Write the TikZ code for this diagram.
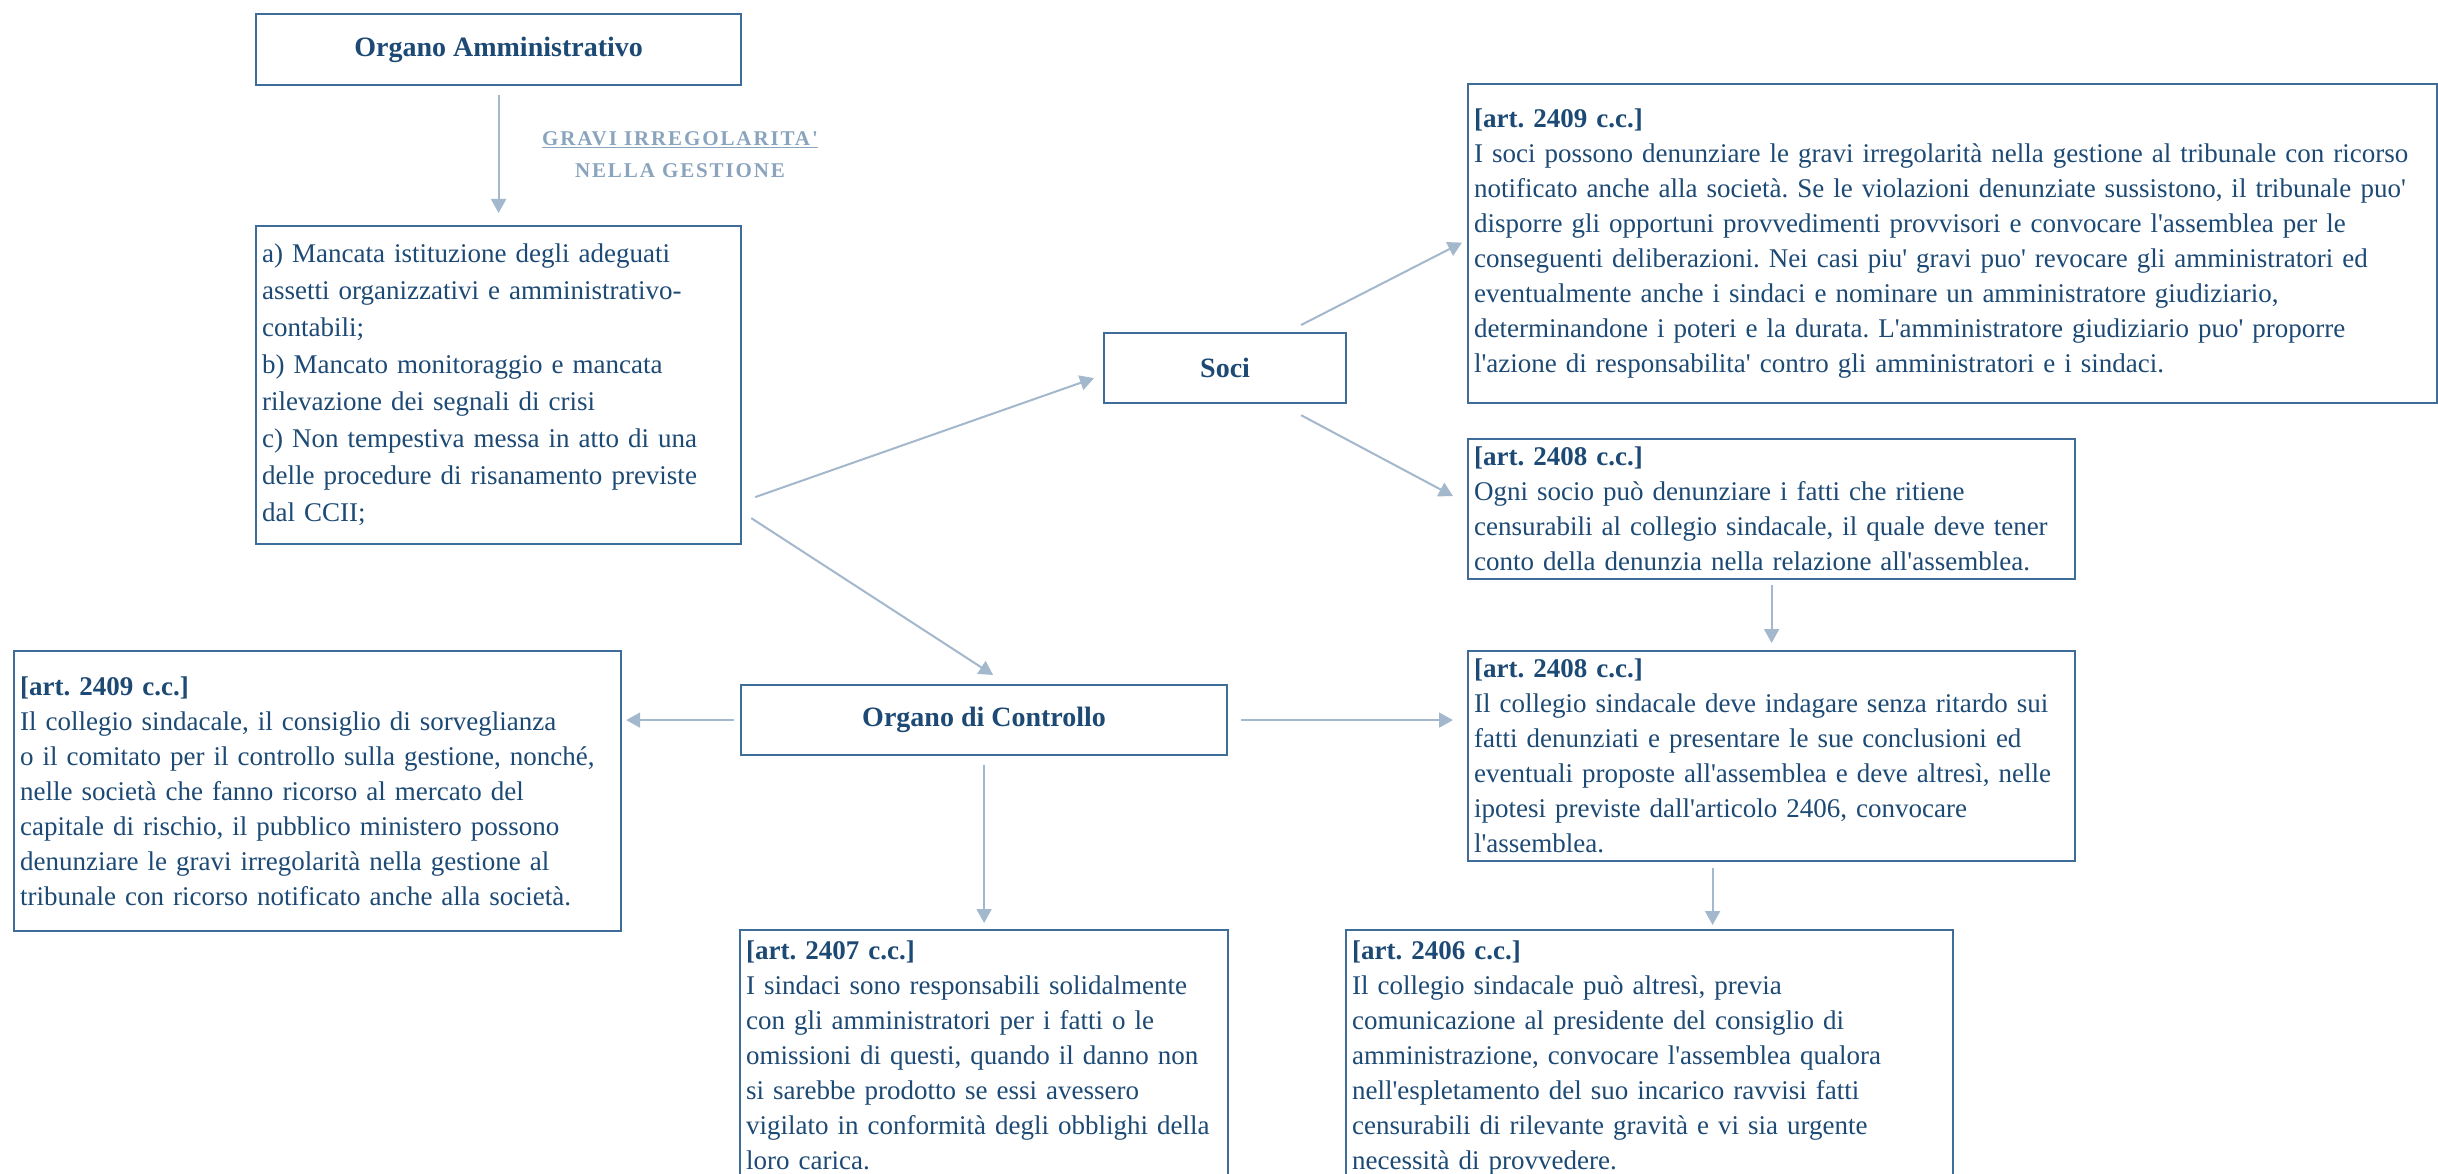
\documentclass[tikz,border=0pt]{standalone}
\usepackage{fontspec}
\setmainfont{Liberation Serif}[Ligatures=TeXOff]
\usetikzlibrary{arrows.meta}
\definecolor{txtc}{HTML}{1D4A75}
\definecolor{boxc}{HTML}{3E6D99}
\definecolor{arrc}{HTML}{A3B8CC}
\definecolor{labc}{HTML}{8AA4BD}
\frenchspacing
\begin{document}
\begin{tikzpicture}[x=1pt,y=-1pt,
  box/.style={draw=boxc, line width=2.2pt, text=txtc, inner xsep=6pt, inner ysep=0pt,
    align=left, font=\fontsize{27}{35}\selectfont\frenchspacing, anchor=north west},
  titlebox/.style={draw=boxc, line width=2.2pt, text=txtc,
    font=\fontsize{28}{30}\selectfont\bfseries, anchor=north west, inner sep=0pt},
  conn/.style={draw=arrc, line width=2pt, -{Triangle[length=14pt,width=15pt]}}
]
\useasboundingbox[fill=white] (0,0) rectangle (2438,1174);

% title boxes
\node[titlebox, minimum width=485pt, minimum height=71pt] (oa) at (255,13) {Organo Amministrativo};
\node[titlebox, minimum width=242pt, minimum height=70pt] (soci) at (1103,332) {Soci};
\node[titlebox, minimum width=486pt, minimum height=70pt] (odc) at (740,684) {Organo di Controllo};

% label
\node[text=labc, font=\fontsize{21}{32}\selectfont\bfseries\addfontfeature{LetterSpace=9}, align=center] (lab) at (680,155)
  {\underline{GRAVI IRREGOLARITA'}\\NELLA GESTIONE};

% list box
\node[box, font=\fontsize{27}{37}\selectfont\frenchspacing, minimum width=485pt, minimum height=318pt, text width=473pt] (list) at (255,225)
{a) Mancata istituzione degli adeguati\\
assetti organizzativi e amministrativo-\\
contabili;\\
b) Mancato monitoraggio e mancata\\
rilevazione dei segnali di crisi\\
c) Non tempestiva messa in atto di una\\
delle procedure di risanamento previste\\
dal CCII;};

% top right box
\node[box, minimum width=969pt, minimum height=319pt, text width=957pt] (tr) at (1467,83)
{\textbf{[art. 2409 c.c.]}\\
I soci possono denunziare le gravi irregolarità nella gestione al tribunale con ricorso\\
notificato anche alla società. Se le violazioni denunziate sussistono, il tribunale puo'\\
disporre gli opportuni provvedimenti provvisori e convocare l'assemblea per le\\
conseguenti deliberazioni. Nei casi piu' gravi puo' revocare gli amministratori ed\\
eventualmente anche i sindaci e nominare un amministratore giudiziario,\\
determinandone i poteri e la durata. L'amministratore giudiziario puo' proporre\\
l'azione di responsabilita' contro gli amministratori e i sindaci.};

% art 2408 a
\node[box, minimum width=607pt, minimum height=140pt, text width=595pt] (sa) at (1467,438)
{\textbf{[art. 2408 c.c.]}\\
Ogni socio può denunziare i fatti che ritiene\\
censurabili al collegio sindacale, il quale deve tener\\
conto della denunzia nella relazione all'assemblea.};

% art 2408 b
\node[box, minimum width=607pt, minimum height=210pt, text width=595pt] (sb) at (1467,650)
{\textbf{[art. 2408 c.c.]}\\
Il collegio sindacale deve indagare senza ritardo sui\\
fatti denunziati e presentare le sue conclusioni ed\\
eventuali proposte all'assemblea e deve altresì, nelle\\
ipotesi previste dall'articolo 2406, convocare\\
l'assemblea.};

% left box
\node[box, minimum width=607pt, minimum height=280pt, text width=595pt] (lb) at (13,650)
{\textbf{[art. 2409 c.c.]}\\
Il collegio sindacale, il consiglio di sorveglianza\\
o il comitato per il controllo sulla gestione, nonché,\\
nelle società che fanno ricorso al mercato del\\
capitale di rischio, il pubblico ministero possono\\
denunziare le gravi irregolarità nella gestione al\\
tribunale con ricorso notificato anche alla società.};

% art 2407
\node[box, inner ysep=11pt, minimum width=488pt, text width=476pt] (s07) at (739,929)
{\textbf{[art. 2407 c.c.]}\\
I sindaci sono responsabili solidalmente\\
con gli amministratori per i fatti o le\\
omissioni di questi, quando il danno non\\
si sarebbe prodotto se essi avessero\\
vigilato in conformità degli obblighi della\\
loro carica.};

% art 2406
\node[box, inner ysep=11pt, minimum width=607pt, text width=595pt] (s06) at (1345,929)
{\textbf{[art. 2406 c.c.]}\\
Il collegio sindacale può altresì, previa\\
comunicazione al presidente del consiglio di\\
amministrazione, convocare l'assemblea qualora\\
nell'espletamento del suo incarico ravvisi fatti\\
censurabili di rilevante gravità e vi sia urgente\\
necessità di provvedere.};

% connectors
\draw[conn, shorten <=9pt, shorten >=12pt] (oa.south) -- (list.north);
\draw[conn] ([shift={(13,112)}]list.east) -- ([shift={(-9,10)}]soci.west);
\draw[conn] ([shift={(9,133)}]list.east) -- ([shift={(9,-9)}]odc.north);
\draw[conn] ([shift={(76,-7)}]soci.north) -- ([shift={(-5,-1)}]tr.west);
\draw[conn] ([shift={(76,11)}]soci.south) -- ([shift={(-14,-13)}]sa.west);
\draw[conn, shorten <=5pt, shorten >=7pt] (sa.south) -- (sb.north);
\draw[conn, shorten <=6pt, shorten >=4pt] (odc.west) -- (odc.west -| lb.east);
\draw[conn, shorten <=13pt, shorten >=14pt] (odc.east) -- (odc.east -| sb.west);
\draw[conn, shorten <=9pt, shorten >=6pt] (odc.south) -- (s07.north);
\draw[conn, shorten <=6pt, shorten >=4pt] ([xshift=-59pt]sb.south) -- ([xshift=-59pt]sb.south |- s06.north);
\end{tikzpicture}
\end{document}
